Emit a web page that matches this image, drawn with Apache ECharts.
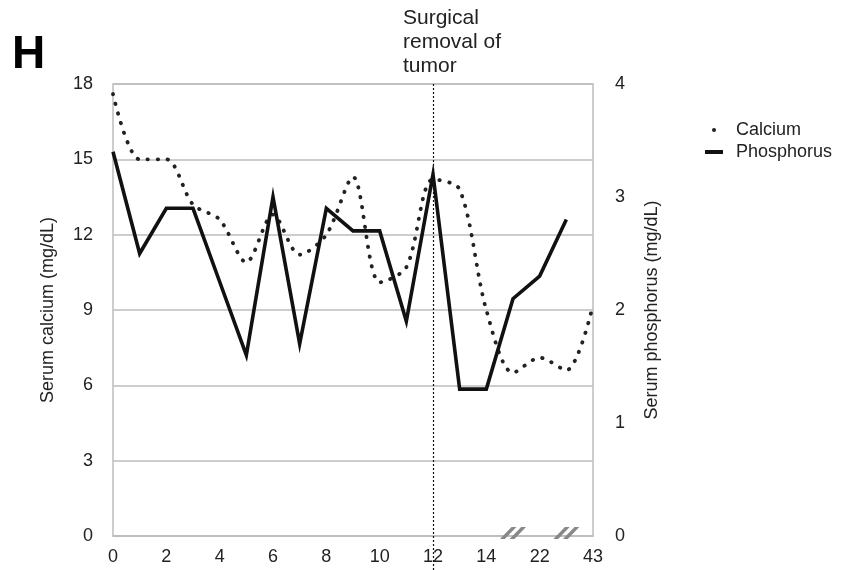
<!DOCTYPE html>
<html>
<head>
<meta charset="utf-8">
<script src="https://cdn.jsdelivr.net/npm/echarts@6/dist/echarts.min.js"></script>
<style>
  html, body { margin: 0; padding: 0; background: #fff; }
  #main { width: 847px; height: 570px; }
</style>
</head>
<body>
<div id="main"></div>
<script>
// categories (day), only even positions get a label
var days = ['0','1','2','3','4','5','6','7','8','9','10','11','12','13','14','','22',' ','43'];
// serum calcium (mg/dL), left axis
var calcium = [17.6, 15.0, 15.0, 13.2, 12.6, 10.9, 12.8, 11.2, 12.0, 14.3, 10.1, 10.7, 14.2, 13.8, 9.0, 6.5, 7.1, 6.6, 9.2];
// serum phosphorus (mg/dL), right axis
var phosphorus = [3.4, 2.5, 2.9, 2.9, 2.25, 1.6, 3.0, 1.7, 2.9, 2.7, 2.7, 1.9, 3.2, 1.3, 1.3, 2.1, 2.3, 2.8];
var surgeryDay = 12;      // index of the surgery marker
var axisBreaks = [15, 17]; // indices where the time axis is broken

var FONT = '"Liberation Sans", Arial, sans-serif';
var myChart = echarts.init(document.getElementById('main'));

var option = {
    animation: false,
    textStyle: { fontFamily: FONT, color: '#222' },
    grid: [
        { left: 113, right: 254, top: 84, bottom: 34, show: true, borderColor: '#bdbdbd', borderWidth: 1.5 },
        // invisible grid, only used to stretch the surgery line under the axis labels
        { left: 113, right: 254, top: 84, bottom: 0 }
    ],
    xAxis: [
        {
            type: 'category', data: days, boundaryGap: false, gridIndex: 0,
            axisLine: { lineStyle: { color: '#bdbdbd', width: 1.5 } },
            axisTick: { show: false },
            axisLabel: { interval: 1, fontSize: 18, color: '#222', margin: 12, fontFamily: FONT }
        },
        { type: 'category', data: days, boundaryGap: false, gridIndex: 1, show: false }
    ],
    yAxis: [
        {
            type: 'value', min: 0, max: 18, interval: 3, gridIndex: 0,
            name: 'Serum calcium (mg/dL)', nameLocation: 'middle', nameGap: 56, nameRotate: 90,
            nameTextStyle: { fontSize: 18, color: '#222', fontFamily: FONT },
            axisLine: { show: false }, axisTick: { show: false },
            axisLabel: { fontSize: 18, color: '#222', margin: 20, fontFamily: FONT },
            splitLine: { lineStyle: { color: '#bdbdbd', width: 1.5 } }
        },
        {
            type: 'value', min: 0, max: 4, interval: 1, gridIndex: 0, position: 'right',
            name: 'Serum phosphorus (mg/dL)', nameLocation: 'middle', nameGap: 50, nameRotate: 90,
            nameTextStyle: { fontSize: 18, color: '#222', fontFamily: FONT },
            axisLine: { show: false }, axisTick: { show: false },
            axisLabel: { fontSize: 18, color: '#222', margin: 22, fontFamily: FONT },
            splitLine: { show: false }
        },
        { type: 'value', min: 0, max: 1, gridIndex: 1, show: false }
    ],
    legend: {
        orient: 'vertical', left: 700, top: 115, itemGap: 2,
        itemWidth: 34, itemHeight: 4, symbolKeepAspect: true,
        itemStyle: { borderWidth: 0 },
        textStyle: { fontSize: 18, color: '#222', lineHeight: 20, fontFamily: FONT },
        data: [
            { name: 'Calcium', icon: 'circle' },
            { name: 'Phosphorus', icon: 'path://M0,0H18V4H0Z' }
        ]
    },
    graphic: [
        { type: 'text', left: 12, top: 32, style: { text: 'H', font: 'bold 46px ' + FONT, fill: '#000' } },
        { type: 'text', left: 403, top: 6, style: { text: 'Surgical\nremoval of\ntumor', font: '21px ' + FONT, lineHeight: 24, fill: '#222' } }
    ],
    series: [
        {
            name: 'Calcium', type: 'line', xAxisIndex: 0, yAxisIndex: 0,
            data: calcium, smooth: 0.3, showSymbol: false, symbol: 'none',
            color: '#222',
            lineStyle: { color: '#222', width: 3.8, type: [0.4, 9.6], cap: 'round' }
        },
        {
            name: 'Phosphorus', type: 'line', xAxisIndex: 0, yAxisIndex: 1,
            data: phosphorus, showSymbol: false, symbol: 'none',
            color: '#111',
            lineStyle: { color: '#111', width: 3.6, join: 'miter' },
            markPoint: {
                silent: true,
                symbol: 'path://M0,12L12,0L17,0L5,12ZM10,12L22,0L27,0L15,12Z',
                symbolSize: [26, 12],
                symbolOffset: [0, -3],
                itemStyle: { color: '#888' },
                label: { show: false },
                data: axisBreaks.map(function (i) { return { coord: [i, 0] }; })
            }
        },
        {
            name: 'surgery', type: 'line', xAxisIndex: 1, yAxisIndex: 2, data: [],
            markLine: {
                silent: true, symbol: ['none', 'none'],
                label: { show: false },
                lineStyle: { color: '#111', width: 1.2, type: [2, 2] },
                data: [{ xAxis: surgeryDay }]
            }
        }
    ]
};
myChart.setOption(option);
</script>
</body>
</html>
